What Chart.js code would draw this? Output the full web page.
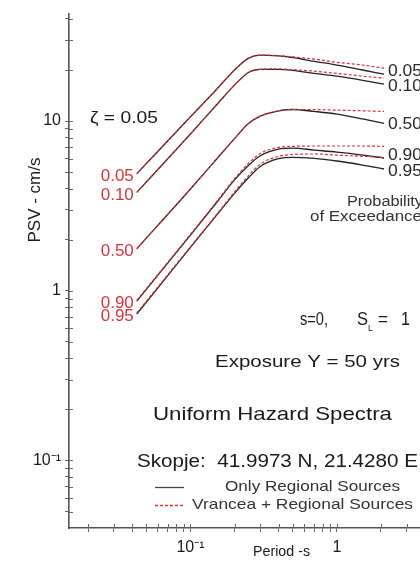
<!DOCTYPE html>
<html>
<head>
<meta charset="utf-8">
<script src="https://cdn.jsdelivr.net/npm/chart.js@4/dist/chart.umd.min.js"></script>
<style>
  html, body { margin: 0; padding: 0; background: #fff; }
  #wrap { width: 420px; height: 561px; }
</style>
</head>
<body>
<div id="wrap"><canvas id="c" width="420" height="561" style="width:420px;height:561px"></canvas></div>
<script>
// ---- data ----
const periods = [0.043, 0.1, 0.15, 0.2, 0.25, 0.3, 0.4, 0.5, 0.7, 1.0, 1.5, 2.1];
const probLabels = ['0.05', '0.10', '0.50', '0.90', '0.95'];

// Only Regional Sources (solid black)
const regional_p05 = [4.9, 10.6, 15.3, 20.0, 23.5, 24.5, 24.2, 23.7, 22.5, 21.4, 20.0, 18.9];
const regional_p10 = [3.8, 8.4, 12.4, 16.3, 19.4, 20.2, 20.2, 19.9, 19.1, 18.4, 17.4, 16.5];
const regional_p50 = [1.77, 3.98, 5.94, 7.88, 9.7, 10.7, 11.5, 11.7, 11.4, 11.0, 10.3, 9.7];
const regional_p90 = [0.87, 2.13, 3.29, 4.5, 5.5, 6.25, 6.84, 6.93, 6.75, 6.57, 6.31, 6.06];
const regional_p95 = [0.73, 1.80, 2.77, 3.75, 4.65, 5.4, 6.0, 6.12, 6.03, 5.82, 5.51, 5.22];

// Vrancea + Regional Sources (red dashed)
const vrancea_p05 = [4.9, 10.6, 15.3, 20.0, 23.5, 24.5, 24.3, 23.9, 23.2, 22.2, 21.4, 20.5];
const vrancea_p10 = [3.8, 8.4, 12.4, 16.3, 19.4, 20.2, 20.3, 20.1, 19.7, 19.1, 18.4, 17.9];
const vrancea_p50 = [1.77, 3.98, 5.94, 7.88, 9.7, 10.7, 11.5, 11.7, 11.7, 11.6, 11.5, 11.4];
const vrancea_p90 = [0.88, 2.15, 3.33, 4.58, 5.65, 6.45, 7.0, 7.1, 7.13, 7.13, 7.13, 7.1];
const vrancea_p95 = [0.74, 1.82, 2.8, 3.82, 4.78, 5.58, 6.2, 6.35, 6.4, 6.3, 6.2, 6.1];

const xTickValues = [0.02,0.03,0.04,0.05,0.06,0.07,0.08,0.09,0.1,0.2,0.3,0.4,0.5,0.6,0.7,0.8,0.9,1,2,3];
const yTickValues = [0.05,0.06,0.07,0.08,0.09,0.1,0.2,0.3,0.4,0.5,0.6,0.7,0.8,0.9,1,2,3,4,5,6,7,8,9,10,20,30,40];
const xTickLabels = { '0.1': '10\u207B\u00B9', '1': '1' };
const yTickLabels = { '0.1': '10\u207B\u00B9', '1': '1', '10': '10' };

// ---- build datasets ----
const regionalSeries = [regional_p05, regional_p10, regional_p50, regional_p90, regional_p95];
const vranceaSeries = [vrancea_p05, vrancea_p10, vrancea_p50, vrancea_p90, vrancea_p95];
const toPts = arr => arr.map((v, i) => ({ x: periods[i], y: v }));

const RED = '#d8343c';
const BLACK = '#222';
const datasets = [];
vranceaSeries.forEach((s, i) => datasets.push({
  label: 'Vrancea + Regional Sources ' + probLabels[i], data: toPts(s),
  borderColor: RED, borderWidth: 1.2, borderDash: [3, 2], pointRadius: 0,
  cubicInterpolationMode: 'monotone', fill: false
}));
regionalSeries.forEach((s, i) => datasets.push({
  label: 'Only Regional Sources ' + probLabels[i], data: toPts(s),
  borderColor: BLACK, borderWidth: 1.3, pointRadius: 0,
  cubicInterpolationMode: 'monotone', fill: false
}));

const FONT = '"Liberation Sans", Arial, Helvetica, sans-serif';
const TXT = '#1a1a1a';
function txt(ctx, s, x, y, size, w, color, align) {
  ctx.save();
  ctx.font = size + 'px ' + FONT;
  ctx.fillStyle = color || TXT;
  ctx.textBaseline = 'middle';
  ctx.textAlign = 'left';
  const m = ctx.measureText(s).width;
  const sx = w ? w / m : 1;
  ctx.translate(x, y);
  ctx.scale(sx, 1);
  ctx.fillText(s, align === 'right' ? -m : 0, 0);
  ctx.restore();
}

const decor = {
  id: 'decor',
  afterDraw(chart) {
    const ctx = chart.ctx;
    const xs = chart.scales.x, ys = chart.scales.y;
    // inner halves of tick marks (ticks cross the axes)
    ctx.save();
    ctx.strokeStyle = '#666';
    ctx.lineWidth = 1;
    const ax = xs.left, ay = ys.bottom;
    yTickValues.forEach(v => {
      const py = Math.round(ys.getPixelForValue(v)) + 0.5;
      ctx.beginPath(); ctx.moveTo(ax, py); ctx.lineTo(ax + 4, py); ctx.stroke();
    });
    xTickValues.forEach(v => {
      const px = Math.round(xs.getPixelForValue(v)) + 0.5;
      ctx.beginPath(); ctx.moveTo(px, ay); ctx.lineTo(px, ay - 4); ctx.stroke();
    });
    ctx.restore();

    // left (red) probability labels at curve starts
    regionalSeries.forEach((s, i) => {
      const px = xs.getPixelForValue(periods[0]);
      const py = ys.getPixelForValue(s[0]);
      txt(ctx, probLabels[i], px - 3, py + 3, 16, 33, RED, 'right');
    });
    // right (black) labels
    const rightY = [72, 87, 125, 156, 172];
    probLabels.forEach((l, i) => txt(ctx, l, 388, rightY[i], 16, 34, '#2a2a2a'));

    txt(ctx, '\u03B6 = 0.05', 90, 118, 17, 68);
    txt(ctx, 'Probability', 347, 202, 14, 76, '#333');
    txt(ctx, 'of Exceedance', 310, 217, 14, 112, '#333');

    txt(ctx, 's=0,', 300, 320, 18, 28);
    txt(ctx, 'S', 357, 320, 18, 11);
    txt(ctx, 'L', 368, 329, 9, 5);
    txt(ctx, '=', 378, 320, 18, 10);
    txt(ctx, '1', 401, 320, 18, 9);

    txt(ctx, 'Exposure Y = 50 yrs', 215, 362, 17, 185);
    txt(ctx, 'Uniform Hazard Spectra', 153, 415, 19, 239);
    txt(ctx, 'Skopje:  41.9973 N, 21.4280 E', 137, 462, 18, 281);

    // legend
    ctx.save();
    ctx.lineWidth = 1.3;
    ctx.strokeStyle = '#444';
    ctx.beginPath(); ctx.moveTo(155, 487.5); ctx.lineTo(184, 487.5); ctx.stroke();
    ctx.strokeStyle = RED; ctx.setLineDash([3, 2]);
    ctx.beginPath(); ctx.moveTo(155, 505.5); ctx.lineTo(184, 505.5); ctx.stroke();
    ctx.restore();
    txt(ctx, 'Only Regional Sources', 225, 487, 15, 175, '#333');
    txt(ctx, 'Vrancea + Regional Sources', 192, 505, 15, 221, '#333');

    // axis titles
    txt(ctx, 'Period -s', 253, 552, 15, 57);
    ctx.save();
    ctx.translate(35, 200);
    ctx.rotate(-Math.PI / 2);
    ctx.font = '17px ' + FONT;
    ctx.fillStyle = TXT;
    ctx.textAlign = 'center';
    ctx.textBaseline = 'middle';
    ctx.fillText('PSV - cm/s', 0, 0);
    ctx.restore();
  }
};

new Chart(document.getElementById('c'), {
  type: 'line',
  data: { datasets },
  plugins: [decor],
  options: {
    responsive: false,
    animation: false,
    devicePixelRatio: 1,
    layout: { padding: { top: 12, right: 0, left: 0, bottom: 0 } },
    plugins: { legend: { display: false }, tooltip: { enabled: false } },
    elements: { line: { borderCapStyle: 'butt' } },
    scales: {
      x: {
        type: 'logarithmic', min: 0.0148, max: 3.7,
        afterBuildTicks: s => { s.ticks = xTickValues.map(v => ({ value: v })); },
        afterFit: s => { s.height = 33; },
        border: { display: true, color: '#555', width: 1.6 },
        grid: { display: true, drawOnChartArea: false, drawTicks: true, tickLength: 4, tickColor: '#666', tickWidth: 1 },
        ticks: {
          autoSkip: false, maxRotation: 0, padding: 6, color: TXT,
          font: { family: FONT, size: 16 },
          callback: v => xTickLabels[String(+v.toPrecision(6))] || ''
        }
      },
      y: {
        type: 'logarithmic', min: 0.04, max: 43,
        afterBuildTicks: s => { s.ticks = yTickValues.map(v => ({ value: v })); },
        afterFit: s => { s.width = 69; },
        border: { display: true, color: '#555', width: 1.6 },
        grid: { display: true, drawOnChartArea: false, drawTicks: true, tickLength: 4, tickColor: '#666', tickWidth: 1 },
        ticks: {
          autoSkip: false, padding: 4, color: TXT,
          font: { family: FONT, size: 16 },
          callback: v => yTickLabels[String(+v.toPrecision(6))] || ''
        }
      }
    }
  }
});
</script>
</body>
</html>
